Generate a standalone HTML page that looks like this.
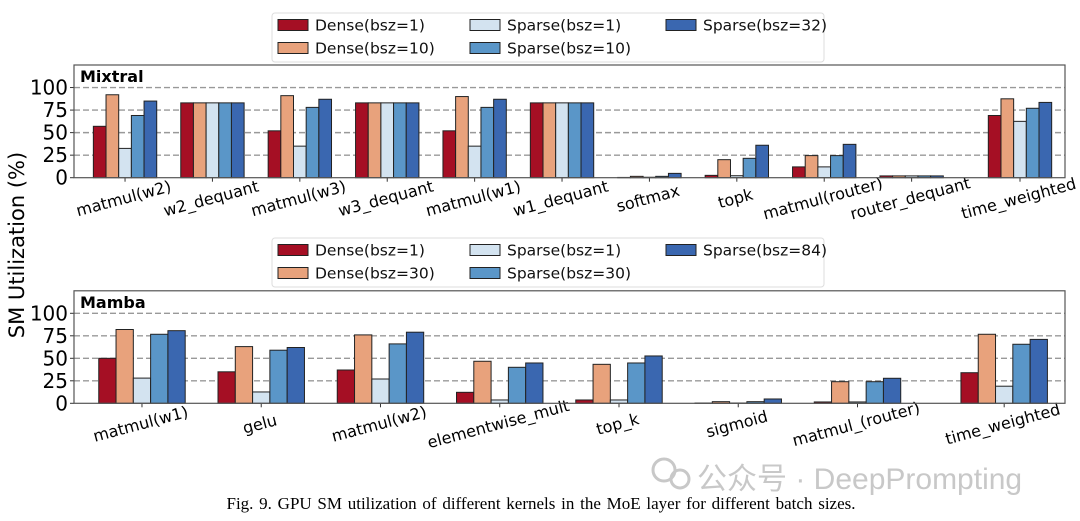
<!DOCTYPE html>
<html><head><meta charset="utf-8"><style>
body{margin:0;background:#fff;}
svg{display:block;font-family:"DejaVu Sans","Liberation Sans",sans-serif;}
</style></head><body>
<svg id="fig" width="1080" height="521" viewBox="0 0 1080 521" xmlns="http://www.w3.org/2000/svg">
<text transform="translate(24,245) rotate(-90)" text-anchor="middle" font-size="21" fill="#000">SM Utilization (%)</text>
<g fill="#c8c8c8">
<circle cx="664" cy="470" r="11" fill="none" stroke="#c8c8c8" stroke-width="3"/>
<circle cx="680" cy="479" r="9" fill="none" stroke="#c8c8c8" stroke-width="3"/>
<text x="697" y="489" font-size="30" font-family="'Liberation Sans','Noto Sans CJK SC',sans-serif">公众号 · DeepPrompting</text>
</g>
<text x="541" y="509" text-anchor="middle" font-size="17" font-family="'Liberation Serif',serif" word-spacing="1.5">Fig. 9.  GPU SM utilization of different kernels in the MoE layer for different batch sizes.</text>
</svg>
<script>
const colors=['#a50f24','#e8a27c','#d3e3f0','#5a96c8','#3a67b0'];
// Mixtral
const mixCats=['matmul(w2)','w2_dequant','matmul(w3)','w3_dequant','matmul(w1)','w1_dequant','softmax','topk','matmul(router)','router_dequant','time_weighted'];
const mixPos=[0,1,2,3,4,5,6,7,8,9,10.24];
const mixSeriesNames=['Dense(bsz=1)','Dense(bsz=10)','Sparse(bsz=1)','Sparse(bsz=10)','Sparse(bsz=32)'];
const mixDense1=[57,83,52,83,52,83,0.3,2.6,12,2,69];
const mixDense10=[92,83,91,83,90,83,1.5,20,24.5,2,87.5];
const mixSparse1=[32.5,83,35,83,35,83,0.5,2.2,12,2,62.5];
const mixSparse10=[69,83,78,83,78,83,1.5,21.5,24.5,2,77];
const mixSparse32=[85,83,87,83,87,83,4.8,36,37,2,83.5];
// Mamba
const mamCats=['matmul(w1)','gelu','matmul(w2)','elementwise_mult','top_k','sigmoid','matmul_(router)','time_weighted'];
const mamPos=[0,1,2,3,4,5,6,7.23];
const mamSeriesNames=['Dense(bsz=1)','Dense(bsz=30)','Sparse(bsz=1)','Sparse(bsz=30)','Sparse(bsz=84)'];
const mamDense1=[50,35,37,12.2,3.7,0.3,1.5,34];
const mamDense30=[82,63,76,46.7,43.3,1.8,24,76.7];
const mamSparse1=[28,12.6,27,3.7,3.7,0.3,1.5,19];
const mamSparse30=[76.7,59,66,40,44.8,1.8,24,65.6];
const mamSparse84=[80.7,62,79,44.8,52.6,4.8,27.8,71];
const yTicks=[0,25,50,75,100];

const NS='http://www.w3.org/2000/svg';
const svg=document.getElementById('fig');
function mk(tag,attrs,parent){const e=document.createElementNS(NS,tag);for(const k in attrs)e.setAttribute(k,attrs[k]);(parent||svg).appendChild(e);return e;}

function legend(x,y,names,prefix){
  const g=mk('g',{});
  
  
  mk('rect',{x:x,y:y,width:552,height:49,rx:3,fill:'#fff',stroke:'#ddd','stroke-width':1},g);
  const colX=[x+6,x+198,x+394];
  names.forEach((n,i)=>{
    const c=Math.floor(i/2),r=i%2;
    const e=mk('g',{},g);
    
    
    const cy=y+12+r*23;
    mk('rect',{x:colX[c],y:cy-5.5,width:30,height:11,fill:colors[i],stroke:'#222','stroke-width':1},e);
    const t=mk('text',{x:colX[c]+37,y:cy+5.5,'font-size':15.5,fill:'#111'},e);t.textContent=n;
  });
}

function panel(opt){
  const {name,title,L,R,T,B,xmin,xmax,cats,pos,series}=opt;
  const g=mk('g',{});
  
  
  const ymax=125;
  const sx=v=>L+(v-xmin)/(xmax-xmin)*(R-L);
  const sy=v=>B-v/ymax*(B-T);
  yTicks.forEach(v=>{
    if(v>0){const l=mk('line',{x1:L,x2:R,y1:sy(v),y2:sy(v),stroke:'#999','stroke-width':1.4,'stroke-dasharray':'6,3'},g);
    }
    mk('line',{x1:L-4,x2:L,y1:sy(v),y2:sy(v),stroke:'#333'},g);
    const t=mk('text',{x:L-6,y:sy(v)+7,'text-anchor':'end','font-size':20,fill:'#000'},g);
    
    t.textContent=v;
  });
  const bw=0.145;
  cats.forEach((c,i)=>{
    const gg=mk('g',{},g);
    
    
    series.forEach((s,j)=>{
      const x0=sx(pos[i]+(j-2.5)*bw), x1=sx(pos[i]+(j-1.5)*bw);
      const v=s[i];
      const r=mk('rect',{x:x0,y:sy(v),width:x1-x0,height:B-sy(v),fill:colors[j],stroke:'#222','stroke-width':1},gg);
      
      
    });
    const tx=sx(pos[i]);
    mk('line',{x1:tx,x2:tx,y1:B,y2:B+4,stroke:'#333'},g);
    const t=mk('text',{'font-size':16,'text-anchor':'middle',fill:'#000',transform:`translate(${tx},${B+26}) rotate(-15)`},g);
    
    t.textContent=c;
  });
  const fr=mk('rect',{x:L,y:T,width:R-L,height:B-T,fill:'none',stroke:'#555','stroke-width':1.2},g);
  
  const tt=mk('text',{x:L+6,y:T+17,'font-size':16,'font-weight':'bold',fill:'#000'},g);
  
  tt.textContent=title;
}

legend(272,13,mixSeriesNames,'mixtral');
legend(272,238,mamSeriesNames,'mamba');
panel({name:'mixtral',title:'Mixtral',L:74,R:1065,T:65,B:177.7,xmin:-0.584,xmax:10.755,cats:mixCats,pos:mixPos,series:[mixDense1,mixDense10,mixSparse1,mixSparse10,mixSparse32]});
panel({name:'mamba',title:'Mamba',L:74,R:1065,T:290.8,B:403.3,xmin:-0.57,xmax:7.74,cats:mamCats,pos:mamPos,series:[mamDense1,mamDense30,mamSparse1,mamSparse30,mamSparse84]});
</script>
</body></html>
